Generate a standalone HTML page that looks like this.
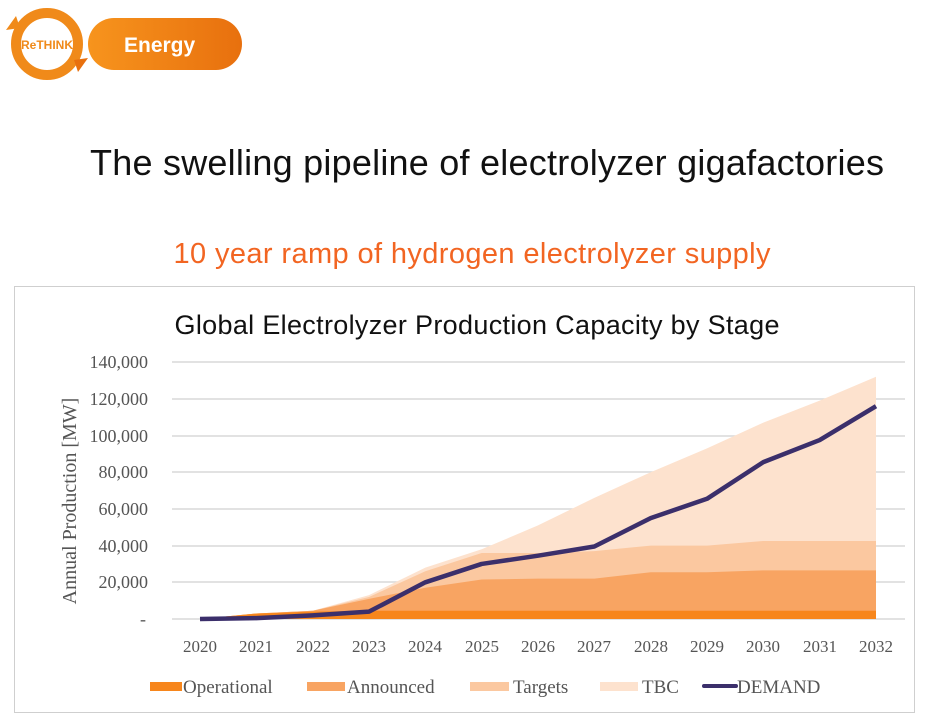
<!DOCTYPE html>
<html><head><meta charset="utf-8"><style>
body{margin:0;background:#fff;width:929px;height:718px;overflow:hidden;font-family:"Liberation Sans",sans-serif;}
</style></head><body>
<svg width="929" height="718" viewBox="0 0 929 718" xmlns="http://www.w3.org/2000/svg">
<defs><linearGradient id="g" x1="0" x2="1"><stop offset="0" stop-color="#f7941d"/><stop offset="1" stop-color="#e8700e"/></linearGradient></defs>
<rect x="88" y="18" width="154" height="52" rx="26" fill="url(#g)"/>
<circle cx="47" cy="44" r="36" fill="#fff"/>
<circle cx="47" cy="44" r="31" fill="none" stroke="#f08a1a" stroke-width="10"/>
<path d="M20 28 L6 30 L16 16 Z" fill="#f08a1a"/>
<path d="M74 60 L88 58 L78 72 Z" fill="#e8700e"/>
<text x="47" y="49" font-size="12" font-weight="bold" fill="#f08a1a" text-anchor="middle">ReTHINK</text>
<text x="124" y="52" font-size="21" font-weight="bold" fill="#fff">Energy</text>
<text x="487" y="175" font-size="36" fill="#111" text-anchor="middle" textLength="794">The swelling pipeline of electrolyzer gigafactories</text>
<text x="472" y="263" font-size="29" fill="#f26522" text-anchor="middle" textLength="597">10 year ramp of hydrogen electrolyzer supply</text>
<rect x="14.5" y="286.5" width="900" height="426" fill="#fff" stroke="#cfcfcf"/>
<text x="477" y="334" font-size="27" fill="#111" text-anchor="middle" textLength="605">Global Electrolyzer Production Capacity by Stage</text>
<g stroke="#d9d9d9" stroke-width="1.5">
<line x1="172" x2="905" y1="362" y2="362"/><line x1="172" x2="905" y1="399" y2="399"/><line x1="172" x2="905" y1="436" y2="436"/><line x1="172" x2="905" y1="472" y2="472"/><line x1="172" x2="905" y1="509" y2="509"/><line x1="172" x2="905" y1="546" y2="546"/><line x1="172" x2="905" y1="582" y2="582"/><line x1="172" x2="905" y1="619" y2="619"/>
</g>
<g font-family="Liberation Serif,serif" font-size="18" fill="#555" text-anchor="end">
<text x="148" y="368">140,000</text><text x="148" y="405">120,000</text><text x="148" y="442">100,000</text><text x="148" y="478">80,000</text><text x="148" y="515">60,000</text><text x="148" y="552">40,000</text><text x="148" y="588">20,000</text><text x="146" y="625">-</text>
</g>
<text transform="translate(76,501) rotate(-90)" font-family="Liberation Serif,serif" font-size="20" fill="#555" text-anchor="middle">Annual Production [MW]</text>
<g transform="translate(200,619) scale(56.333,-0.001835)">
<path fill="#fde2ce" d="M0 0 L1 3000 L2 4500 L3 13000 L4 28000 L5 38000 L6 51000 L7 66000 L8 80000 L9 93000 L10 107000 L11 119000 L12 132000 L12 0 Z"/>
<path fill="#fbc8a0" d="M0 0 L1 3000 L2 4500 L3 12000 L4 26000 L5 36000 L6 36000 L7 37000 L8 40000 L9 40000 L10 42500 L11 42500 L12 42500 L12 0 Z"/>
<path fill="#f8a462" d="M0 0 L1 3000 L2 4500 L3 11000 L4 17000 L5 21500 L6 22000 L7 22000 L8 25500 L9 25500 L10 26500 L11 26500 L12 26500 L12 0 Z"/>
<path fill="#f7861c" d="M0 0 L1 3000 L2 4000 L3 4500 L12 4500 L12 0 Z"/>
<path fill="none" stroke="#3b2f6b" stroke-width="4.5" vector-effect="non-scaling-stroke" stroke-linejoin="round" d="M0 0 L1 500 L2 2000 L3 4000 L4 20000 L5 30000 L6 34500 L7 39500 L8 55000 L9 65500 L10 85500 L11 97500 L12 116000"/>
</g>
<g font-family="Liberation Serif,serif" font-size="17" fill="#555" text-anchor="middle">
<text x="200" y="652">2020</text><text x="256" y="652">2021</text><text x="313" y="652">2022</text><text x="369" y="652">2023</text><text x="425" y="652">2024</text><text x="482" y="652">2025</text><text x="538" y="652">2026</text><text x="594" y="652">2027</text><text x="651" y="652">2028</text><text x="707" y="652">2029</text><text x="763" y="652">2030</text><text x="820" y="652">2031</text><text x="876" y="652">2032</text>
</g>
<g font-family="Liberation Serif,serif" font-size="19" fill="#555">
<rect x="150" y="682" width="32" height="9" fill="#f7861c"/><text x="183" y="693">Operational</text>
<rect x="307" y="682" width="38" height="9" fill="#f8a462"/><text x="347" y="693">Announced</text>
<rect x="470" y="682" width="39" height="9" fill="#fbc8a0"/><text x="513" y="693">Targets</text>
<rect x="600" y="682" width="38" height="9" fill="#fde2ce"/><text x="642" y="693">TBC</text>
<line x1="704" x2="736" y1="686" y2="686" stroke="#3b2f6b" stroke-width="4" stroke-linecap="round"/><text x="737" y="693">DEMAND</text>
</g>
</svg>
</body></html>
